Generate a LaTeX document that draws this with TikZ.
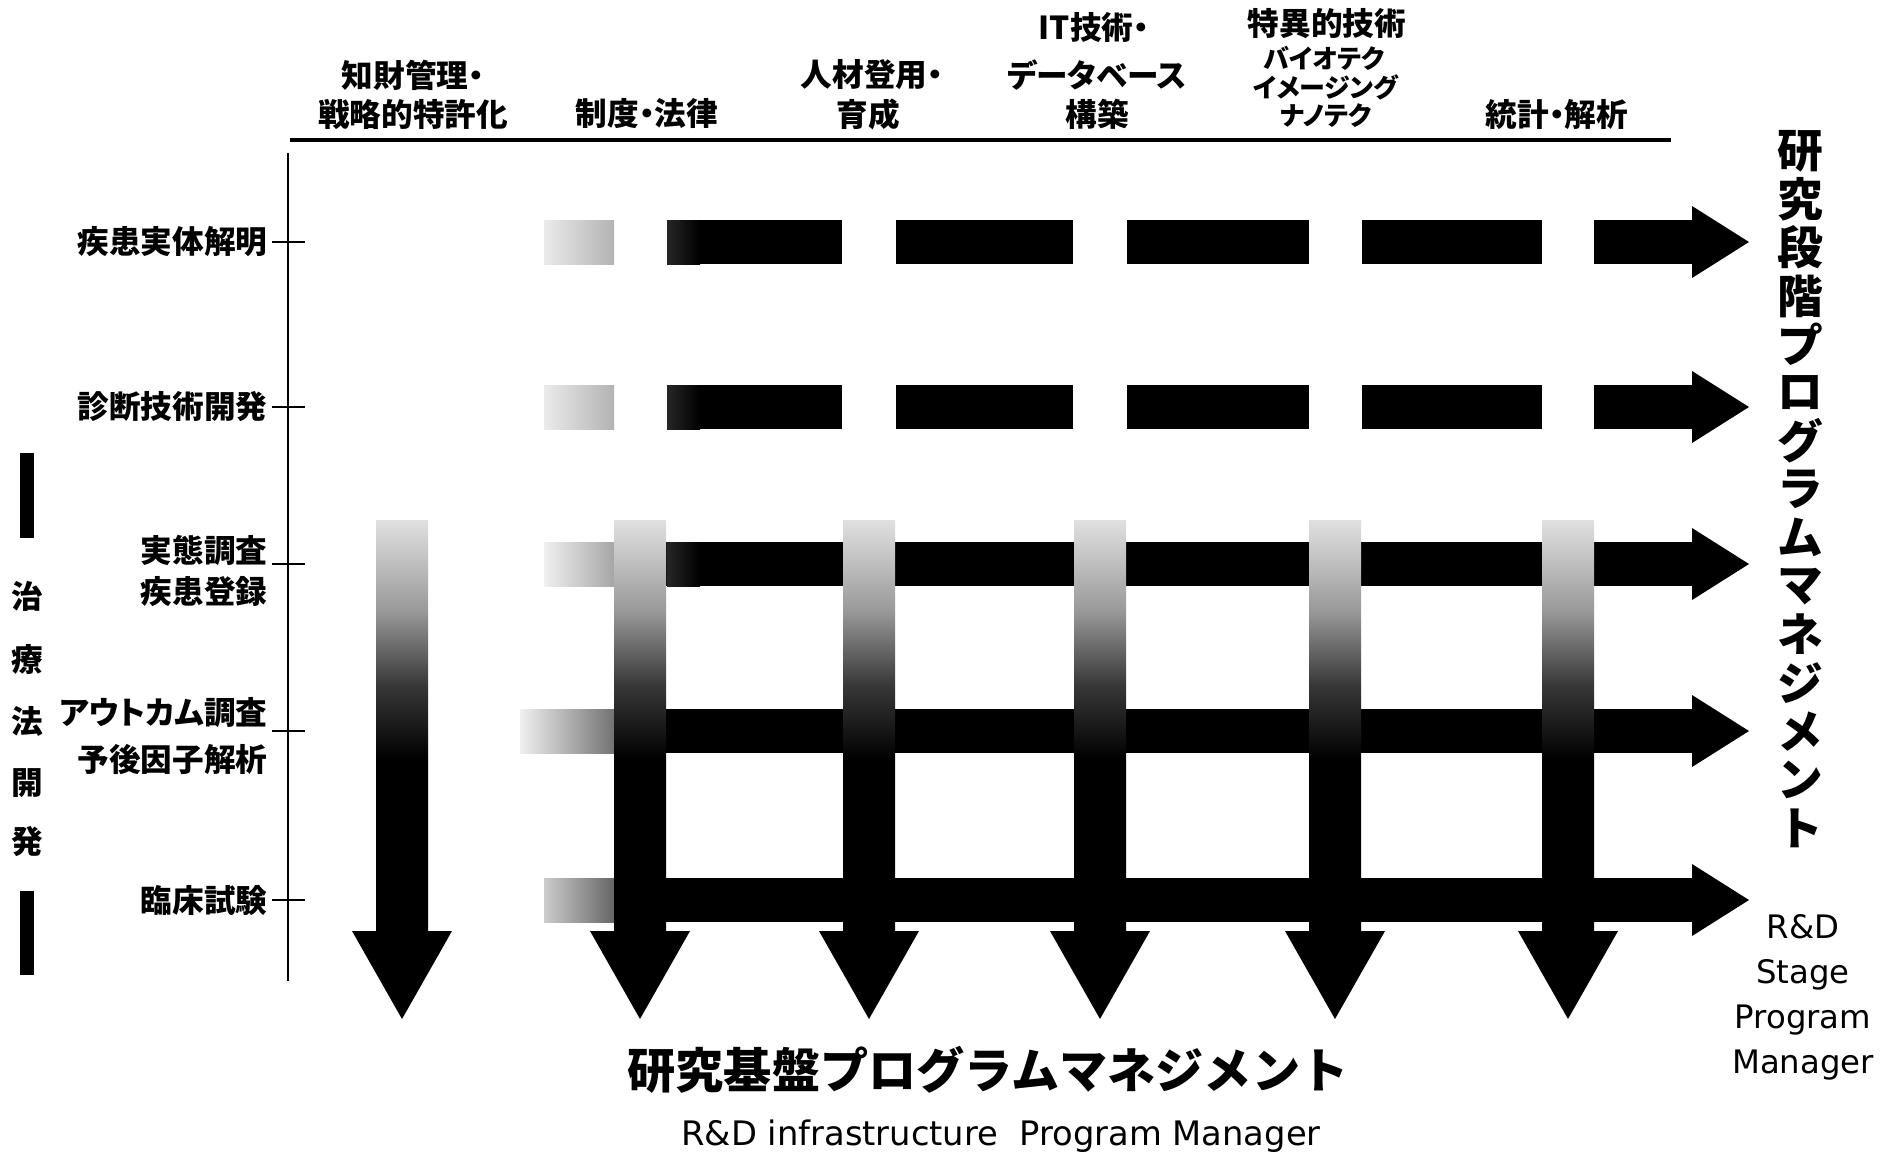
\documentclass[tikz,border=0pt]{standalone}
\usepackage{fontspec}
\setmainfont{DejaVu Sans}
\newfontfamily\jp{Noto Sans CJK JP}
\newfontfamily\jpp[RawFeature=+palt]{Noto Sans CJK JP}
\newfontfamily\en{DejaVu Sans}
\pgfdeclareverticalshading{vfade}{100bp}{color(0bp)=(black); color(25bp)=(black); color(46bp)=(black); color(55bp)=(black!78); color(64bp)=(black!40); color(75bp)=(black!12); color(100bp)=(black!12)}
\begin{document}
\begin{tikzpicture}[x=0.1mm,y=-0.1mm,
  lbl/.style={font=\jp\bfseries\fontsize{9}{10}\selectfont, inner sep=0pt},
  lblp/.style={font=\jpp\bfseries\fontsize{9}{10}\selectfont, inner sep=0pt},
  hd/.style={lbl, anchor=center},
  hdp/.style={lblp, anchor=center},
  hds/.style={font=\jpp\bfseries\fontsize{7.4}{8}\selectfont, inner sep=0pt},
  rowlbl/.style={lbl, anchor=east},
  rowlblp/.style={lblp, anchor=east},
  vt/.style={font=\jp\bfseries\fontsize{13}{13}\selectfont, inner sep=0pt},
  bigt/.style={font=\jp\bfseries\fontsize{13.7}{14}\selectfont, inner sep=0pt},
  entxt/.style={font=\en\fontsize{9.6}{10}\selectfont, inner sep=0pt},
  axisline/.style={line width=0.7pt},
  bar/.style={fill=black}]
\fill[white] (0,0) rectangle (1895,1156);
\useasboundingbox (0,0) rectangle (1895,1156);

% header line and axis
\coordinate (hlL) at (290,140);
\coordinate (hlR) at (1671,140);
\draw[line width=1pt] (hlL) -- (hlR);
\coordinate (axT) at (288,153);
\coordinate (axB) at (288,981);
\draw[axisline] (axT) -- (axB);

% header labels
\node[hdp] (h1a) at (413,75) {知財管理・};
\node[hd] (h1b) at (413,114) {戦略的特許化};
\node[hdp] (h2) at (647,114) {制度・法律};
\node[hdp] (h3a) at (872,75) {人材登用・};
\node[hd] (h3b) at (868,114) {育成};
\node[hdp] (h4a) at (1094,27) {IT技術・};
\node[hdp] (h4b) at (1097,75) {データベース};
\node[hd] (h4c) at (1097,114) {構築};
\node[hd] (h5a) at (1327,24) {特異的技術};
\node[hds] (h5b) at (1324,58) {バイオテク};
\node[hds] (h5c) at (1326,87) {イメージング};
\node[hds] (h5d) at (1326,116) {ナノテク};
\node[hdp] (h6) at (1557,114) {統計・解析};

% row labels and ticks
\node[rowlbl] (r1) at (268,242) {疾患実体解明};
\node[rowlbl] (r2) at (268,407) {診断技術開発};
\node[rowlbl] (r3a) at (268,550) {実態調査};
\node[rowlbl] (r3b) at (268,592) {疾患登録};
\node[rowlblp] (r4a) at (268,713) {アウトカム調査};
\node[rowlbl] (r4b) at (268,759) {予後因子解析};
\node[rowlbl] (r5) at (268,900) {臨床試験};
\foreach \y in {242,407,564,731,900}
  \draw[axisline] (272,\y) -- (305,\y);

% horizontal bars rows 1-2 (interrupted)
\foreach \y in {242,407} {
  \shade[left color=black!8, right color=black!30] (544,\y-22) rectangle (614,\y+22);
  \foreach \a/\b in {667/842, 896/1073, 1127/1309, 1362/1542, 1594/1692}
    \fill[bar] (\a,\y-22) rectangle (\b,\y+22);
  \shade[left color=black!85, right color=black] (667,\y-22) rectangle (700,\y+22);
}
% rows 3-5 continuous
\shade[left color=black!6, right color=black!35] (544,542) rectangle (614,586);
\shade[left color=black!6, right color=black!55] (520,709) rectangle (614,753);
\shade[left color=black!20, right color=black!60] (544,878) rectangle (614,922);
\foreach \y in {564,731,900}
  \fill[bar] (614,\y-22) rectangle (1692,\y+22);
\shade[left color=black!85, right color=black] (667,542) rectangle (700,586);
% horizontal heads
\foreach \y in {242,407,564,731,900}
  \fill[bar] (1692,\y-36) -- (1749,\y) -- (1692,\y+36) -- cycle;

% vertical arrows
\foreach \x in {402,640,869,1100,1335,1568} {
  \shade[shading=vfade] (\x-26,520) rectangle (\x+26,933);
  \fill[bar] (\x-50,931) -- (\x+50,931) -- (\x,1019) -- cycle;
}

% left vertical title
\fill[bar] (20,453) rectangle (34,538);
\fill[bar] (20,891) rectangle (34,975);
\foreach \c/\yy [count=\i] in {治/596,療/659,法/721,開/783,発/842}
  \node[lbl] (lt\i) at (27,\yy) {\c};

% right vertical title
\foreach \c [count=\i from 0] in {研,究,段,階,プ,ロ,グ,ラ,ム,マ,ネ,ジ,メ,ン,ト}
  \node[vt] (rt\i) at (1800,151+\i*48.36) {\c};
\node[font=\en\fontsize{9.2}{12.8}\selectfont, align=center, inner sep=0pt] (rs) at (1803,997) {R\&D\\Stage\\Program\\Manager};

% bottom titles
\node[bigt] (bt) at (988,1070) {研究基盤プログラムマネジメント};
\node[entxt] (be) at (1001,1136) {R\&D infrastructure\ \ Program Manager};
\end{tikzpicture}
\end{document}
